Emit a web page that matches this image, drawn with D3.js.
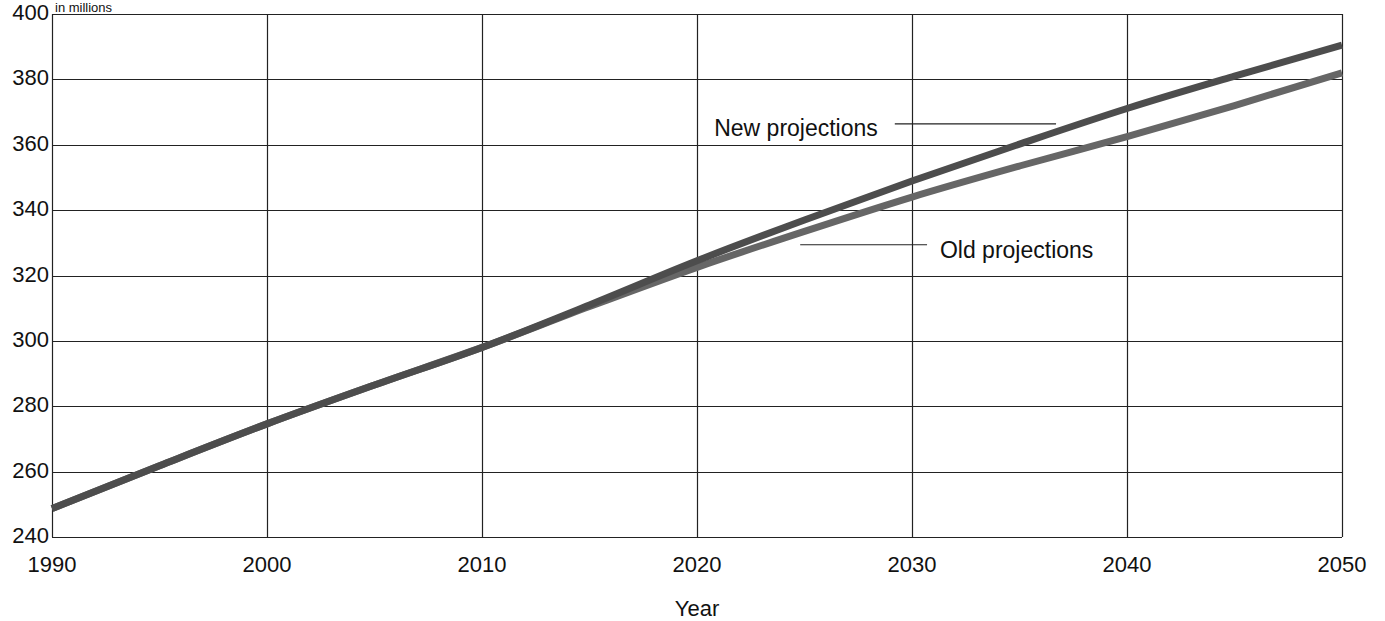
<!DOCTYPE html>
<html>
<head>
<meta charset="utf-8">
<script src="https://cdn.jsdelivr.net/npm/d3@7"></script>
<style>
  body { margin: 0; background: #fff; }
  text { font-family: Arial, "Liberation Sans", sans-serif; fill: #111; }
</style>
</head>
<body>
<svg id="chart" width="1385" height="621"></svg>
<script>
  // values (millions)
  var years = [1990, 1995, 2000, 2005, 2010, 2015, 2020, 2025, 2030, 2035, 2040, 2045, 2050]
  var newProj = [248.7, 261.8, 274.6, 286.5, 298.0, 311.0, 324.5, 337.0, 348.9, 360.2, 371.1, 381.0, 390.5]
  var oldProj = [248.7, 261.8, 274.6, 286.5, 298.0, 310.5, 322.5, 333.5, 344.0, 353.5, 362.5, 372.0, 382.0]
  var xTicks = [1990, 2000, 2010, 2020, 2030, 2040, 2050]
  var yTicks = [240, 260, 280, 300, 320, 340, 360, 380, 400]

  var svg = d3.select('#chart')
  var margin = {top: 14, right: 43, bottom: 84, left: 52}
  var width = +svg.attr('width') - margin.left - margin.right
  var height = +svg.attr('height') - margin.top - margin.bottom

  var x = d3.scaleLinear().domain([1990, 2050]).range([0, width])
  var y = d3.scaleLinear().domain([240, 400]).range([height, 0])

  var g = svg.append('g')
    .attr('transform', 'translate(' + margin.left + ',' + margin.top + ')')

  // grid
  g.selectAll('.hgrid')
    .data(yTicks)
    .enter().append('line')
    .attr('x1', 0).attr('x2', width)
    .attr('y1', function(d){ return Math.round(y(d)) + 0.5 })
    .attr('y2', function(d){ return Math.round(y(d)) + 0.5 })
    .style('stroke', '#222')
    .style('stroke-width', 1.2)

  g.selectAll('.vgrid')
    .data(xTicks)
    .enter().append('line')
    .attr('y1', 0).attr('y2', height)
    .attr('x1', function(d){ return Math.round(x(d)) + 0.5 })
    .attr('x2', function(d){ return Math.round(x(d)) + 0.5 })
    .style('stroke', '#222')
    .style('stroke-width', 1.2)

  // tick labels
  g.selectAll('.ylab')
    .data(yTicks)
    .enter().append('text')
    .attr('x', -3)
    .attr('y', function(d){ return y(d) + 6 })
    .attr('text-anchor', 'end')
    .style('font-size', '22px')
    .text(function(d){ return d })

  g.selectAll('.xlab')
    .data(xTicks)
    .enter().append('text')
    .attr('x', function(d){ return x(d) })
    .attr('y', height + 35)
    .attr('text-anchor', 'middle')
    .style('font-size', '22px')
    .text(function(d){ return d })

  g.append('text')
    .attr('x', x(2020))
    .attr('y', height + 79)
    .attr('text-anchor', 'middle')
    .style('font-size', '22px')
    .text('Year')

  g.append('text')
    .attr('x', 3)
    .attr('y', -2)
    .style('font-size', '13px')
    .text('in millions')

  // series
  var line = d3.line()
    .x(function(d){ return x(d[0]) })
    .y(function(d){ return y(d[1]) })
    .curve(d3.curveMonotoneX)

  g.append('path')
    .datum(years.map(function(yr, i){ return [yr, oldProj[i]] }))
    .attr('d', line)
    .style('fill', 'none')
    .style('stroke', '#666')
    .style('stroke-width', 7)

  g.append('path')
    .datum(years.map(function(yr, i){ return [yr, newProj[i]] }))
    .attr('d', line)
    .style('fill', 'none')
    .style('stroke', '#4d4d4d')
    .style('stroke-width', 7)

  // labels with leader lines
  var labels = [
    {text: 'New projections', tx: 2020.8, ty: 362.6, lx1: 2029.2, lx2: 2036.7, ly: 366.4},
    {text: 'Old projections', tx: 2031.3, ty: 325.3, lx1: 2024.8, lx2: 2030.7, ly: 329.4}
  ]

  labels.forEach(function(l){
    g.append('line')
      .attr('x1', x(l.lx1)).attr('x2', x(l.lx2))
      .attr('y1', y(l.ly)).attr('y2', y(l.ly))
      .style('stroke', '#222')
      .style('stroke-width', 1.2)
    g.append('text')
      .attr('x', x(l.tx))
      .attr('y', y(l.ty))
      .style('font-size', '23px')
      .text(l.text)
  })
</script>
</body>
</html>
